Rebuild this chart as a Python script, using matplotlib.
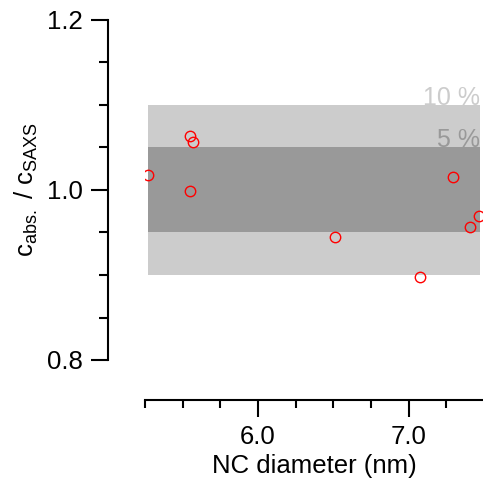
import matplotlib
matplotlib.use("Agg")
import matplotlib.pyplot as plt
from matplotlib.ticker import MultipleLocator

plt.rcParams['font.family'] = ['Liberation Sans', 'DejaVu Sans']
plt.rcParams['mathtext.fontset'] = 'custom'
plt.rcParams['mathtext.rm'] = 'Liberation Sans'
plt.rcParams['mathtext.it'] = 'Liberation Sans'

diameter = [5.268, 5.547, 5.569, 5.547, 6.514, 7.078, 7.297, 7.405, 7.464]
ratio = [1.018, 1.064, 1.056, 0.999, 0.945, 0.898, 1.015, 0.956, 0.969]
band_x = [5.268, 7.47]
band_10 = (0.9, 1.1)
band_5 = (0.95, 1.05)

PX = 72 / 100  # points per pixel
FS = 18.5

fig = plt.figure(figsize=(4.83, 4.88), dpi=100)
ax = fig.add_axes([145/483, 128/488, 338/483, 340/488])

ax.fill_between(band_x, band_10[0], band_10[1], color='#cccccc', lw=0, zorder=1)
ax.fill_between(band_x, band_5[0], band_5[1], color='#999999', lw=0, zorder=2)
ax.text(7.475, band_10[1], '10 %', color='#cccccc', fontsize=18, ha='right', va='baseline', zorder=0.5)
ax.text(7.475, band_5[1], '5 %', color='#999999', fontsize=18, ha='right', va='baseline', zorder=1.5)

ax.plot(diameter, ratio, 'o', mfc='none', mec='#ff0000', mew=1.0, ms=7.5, zorder=3, clip_on=True)

ax.set_xlim(5.25, 7.493)
ax.set_ylim(0.8, 1.2)
ax.spines['top'].set_visible(False)
ax.spines['right'].set_visible(False)
ax.spines['left'].set_position(('outward', 37 * PX))
ax.spines['bottom'].set_position(('outward', 40 * PX))
for s in ('left', 'bottom'):
    ax.spines[s].set_linewidth(1.5)

ax.xaxis.set_major_locator(MultipleLocator(1.0))
ax.xaxis.set_minor_locator(MultipleLocator(0.25))
ax.yaxis.set_major_locator(MultipleLocator(0.2))
ax.yaxis.set_minor_locator(MultipleLocator(0.05))
ax.xaxis.set_major_formatter(plt.FuncFormatter(lambda v, p: f'{v:.1f}'))
ax.yaxis.set_major_formatter(plt.FuncFormatter(lambda v, p: f'{v:.1f}'))

ax.tick_params(axis='both', which='major', length=17 * PX, width=1.5, labelsize=FS)
ax.tick_params(axis='x', which='minor', length=8 * PX, width=1.5)
ax.tick_params(axis='y', which='minor', length=9 * PX, width=1.5)
ax.tick_params(axis='x', which='major', pad=6)
ax.tick_params(axis='y', which='major', pad=6)

ax.set_xlabel('NC diameter (nm)', fontsize=FS, labelpad=3)
ax.set_ylabel(r'c$_{\mathregular{abs.}}$ / c$_{\mathregular{SAXS}}$', fontsize=FS, labelpad=5)

fig.savefig('out.png', dpi=100)
